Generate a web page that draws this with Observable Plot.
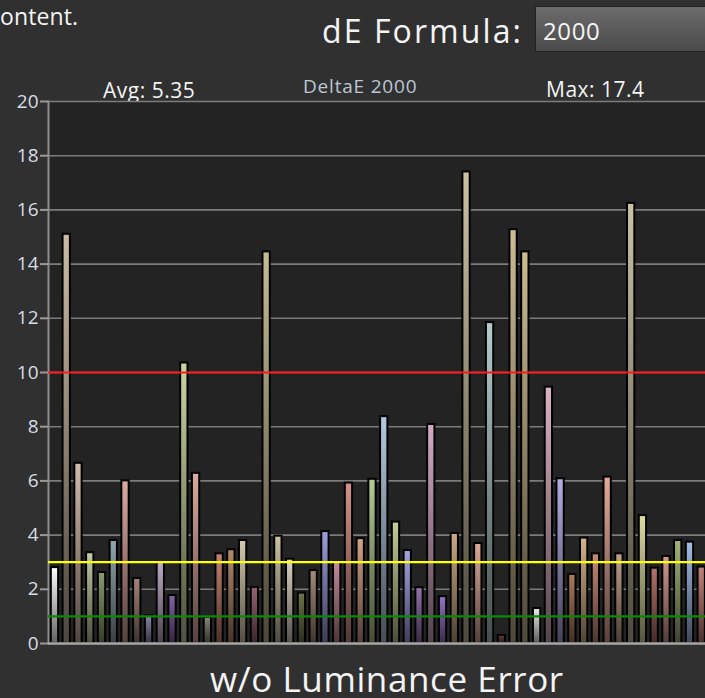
<!DOCTYPE html>
<html><head><meta charset="utf-8">
<script src="https://cdn.jsdelivr.net/npm/d3@7"></script>
<script src="https://cdn.jsdelivr.net/npm/@observablehq/plot@0.6"></script>
<style>
html,body{margin:0;padding:0;background:#303030;overflow:hidden;}
#page{position:relative;width:705px;height:698px;overflow:hidden;font-family:"Open Sans",sans-serif;color:#f4f4f4;}
.t{position:absolute;white-space:nowrap;line-height:1;}
#chart{position:absolute;left:0;top:80px;}
#chart svg{display:block;}
#box{position:absolute;left:535px;top:6px;width:190px;height:46px;background:linear-gradient(#6c6c6c,#4a4a4a);border:1px solid #222;box-sizing:border-box;}
#chart [aria-label="y-axis tick"]{stroke:#9a9a9a;stroke-width:2px;}
</style></head><body><div id="page">
<div class="t" id="t1" style="left:0px;font-size:23px;top:4.6px;letter-spacing:0.1px;">ontent.</div>
<div class="t" id="t2" style="left:322px;font-size:32px;top:14.6px;letter-spacing:2.1px;">dE Formula:</div>
<div id="box"></div>
<div class="t" id="t3" style="left:543px;font-size:24px;top:18.7px;letter-spacing:0.6px;">2000</div>
<div class="t" id="t4" style="left:103px;font-size:21px;top:79.6px;letter-spacing:0.5px;">Avg: 5.35</div>
<div class="t" id="t5" style="left:303px;font-size:19px;top:76.5px;letter-spacing:0.8px;color:#bcc6d4;">DeltaE 2000</div>
<div class="t" id="t6" style="left:546px;font-size:21px;top:78.8px;letter-spacing:0.5px;">Max: 17.4</div>
<div id="chart"></div>
<div class="t" id="t7" style="left:210px;font-size:35px;top:660.5px;letter-spacing:0.6px;height:36px;">w/o Luminance Error</div>
</div>
<script>
// ---- data ----
const values = [2.8, 15.1, 6.65, 3.35, 2.62, 3.8, 6.0, 2.4, 1.03, 2.99, 1.77, 10.35, 6.28, 0.97, 3.31, 3.46, 3.8, 2.07, 14.45, 3.96, 3.11, 1.86, 2.69, 4.13, 3.0, 5.92, 3.87, 6.06, 8.37, 4.48, 3.43, 2.06, 8.08, 1.73, 4.06, 17.4, 3.69, 11.84, 0.3, 15.27, 14.45, 1.29, 9.46, 6.08, 2.55, 3.89, 3.31, 6.14, 3.31, 16.24, 4.72, 2.78, 3.21, 3.8, 3.74, 2.82];
const colors = ["#ffffff","#cbbba3","#d4bcab","#c4cca2","#8a9c6c","#90a6ae","#dcaaa0","#a48479","#8c84ac","#bcaac4","#8662a6","#cad4a2","#dcaaa2","#86867c","#c4826f","#b48a6a","#d4cbab","#946272","#c4bc92","#ccc3a3","#dcd4c2","#6e744a","#a48a7a","#9c9cdc","#c48a9c","#d4928a","#d4a28a","#b4cc92","#b4cade","#c4cc9a","#a4a4e4","#9472ac","#d4aac4","#9474c4","#ccaa82","#cbc2a2","#dcaa9a","#b4cccc","#6a3c3a","#ccbc92","#ccbc92","#ececec","#dcb2c4","#b4ace4","#ac7a5a","#d4b28a","#c48a7a","#e4aa9a","#c4a28a","#cbc2a2","#dcdca2","#b4726a","#d49a92","#a4b47a","#a4bce4","#c4827a"];
const patches = values.map((v, i) => `P${i + 1}`);
const yTicks = [0, 2, 4, 6, 8, 10, 12, 14, 16, 18, 20];
const gridTicks = [2, 4, 6, 8, 10, 12, 14, 16, 18, 20];
const thresholdLevels = [10, 3, 1];
const thresholdColors = ["#ff1a1a", "#ffff10", "#0a8a0a"];

const data = values.map((v, i) => ({id: patches[i], value: v, color: colors[i]}));
const thresholds = thresholdLevels.map((l, i) => ({level: l, color: thresholdColors[i]}));

const chart = Plot.plot({
  width: 705, height: 575,
  marginLeft: 48, marginRight: 0, marginTop: 21, marginBottom: 12,
  style: {background: "transparent", color: "#d8dce4", fontFamily: "Open Sans", fontSize: "19px"},
  x: {type: "band", domain: patches, range: [48, 707.7], paddingInner: 0.38, paddingOuter: 0.24, axis: null},
  y: {domain: [0, 20], axis: null},
  color: {type: "identity"},
  marks: [
    Plot.frame({fill: "#232323", stroke: "none"}),
    Plot.ruleY(gridTicks, {stroke: "#7c7c7c", strokeWidth: 1.6}),
    Plot.frame({anchor: "left", stroke: "#8e8e8e", strokeWidth: 2}),
    Plot.axisY({ticks: yTicks, tickSize: 8, tickPadding: 2, label: null, fontSize: 19}),
    Plot.barY(data, {x: "id", y: "value", fill: "color"}),
    Plot.barY(data, {x: "id", y: "value", fill: "url(#shade)", stroke: "#000", strokeWidth: 2}),
    Plot.ruleY([0], {stroke: "#a8a8a8", strokeWidth: 2.5}),
    Plot.ruleY(thresholds, {y: "level", stroke: "color", strokeWidth: 2.2})
  ]
});
const defs = d3.select(chart).insert("defs", ":first-child");
const g = defs.append("linearGradient").attr("id", "shade").attr("x1", 0).attr("y1", 0).attr("x2", 0).attr("y2", 1);
g.append("stop").attr("offset", 0).attr("stop-color", "#000").attr("stop-opacity", 0);
g.append("stop").attr("offset", 1).attr("stop-color", "#000").attr("stop-opacity", 0.62);
document.getElementById("chart").appendChild(chart);
</script>
</body></html>
